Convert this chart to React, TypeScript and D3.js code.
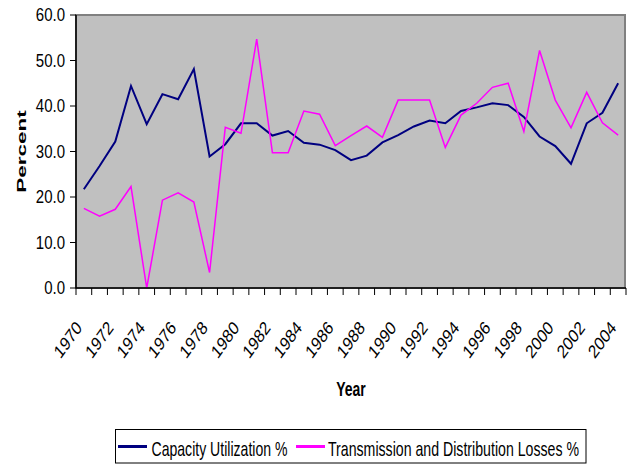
import React from 'react';
import * as d3 from 'd3';

const years = [
  1970, 1971, 1972, 1973, 1974, 1975, 1976, 1977, 1978, 1979,
  1980, 1981, 1982, 1983, 1984, 1985, 1986, 1987, 1988, 1989,
  1990, 1991, 1992, 1993, 1994, 1995, 1996, 1997, 1998, 1999,
  2000, 2001, 2002, 2003, 2004,
];

const capacityUtilization = [
  21.7, 26.8, 32.2, 44.4, 36.0, 42.6, 41.5, 48.1, 28.9, 31.6,
  36.2, 36.2, 33.5, 34.5, 31.9, 31.5, 30.3, 28.1, 29.1, 32.0,
  33.6, 35.5, 36.8, 36.2, 38.9, 39.7, 40.6, 40.2, 37.6, 33.3,
  31.2, 27.3, 36.2, 38.5, 45.0,
];

const tdLosses = [
  17.5, 15.8, 17.3, 22.3, 0.0, 19.3, 20.9, 18.9, 3.4, 35.3,
  34.0, 54.7, 29.7, 29.7, 38.9, 38.2, 31.3, 33.5, 35.6, 33.1,
  41.3, 41.3, 41.3, 30.9, 38.0, 40.6, 44.1, 45.0, 34.4, 52.2,
  41.3, 35.2, 43.0, 36.3, 33.6,
];

const yTicks = [0, 10, 20, 30, 40, 50, 60];
const seriesNames = ['Capacity Utilization %', 'Transmission and Distribution Losses %'];
const seriesColors = ['#000080', '#ff00ff'];
const seriesWidths = [2, 1.5];

const font = '"Liberation Sans", Arial, sans-serif';

export default function App() {
  const width = 629;
  const height = 465;
  const margin = { top: 15, right: 3, bottom: 177, left: 76 };

  const x = d3
    .scaleBand<number>()
    .domain(years)
    .range([margin.left, width - margin.right])
    .padding(0);
  const bw = x.bandwidth();

  const y = d3
    .scaleLinear()
    .domain([0, 60])
    .range([height - margin.bottom, margin.top]);

  const line = d3
    .line<number>()
    .x((_, i) => (x(years[i]) as number) + bw / 2)
    .y((d) => y(d));

  const series = [capacityUtilization, tdLosses];
  const x0 = margin.left;
  const x1 = width - margin.right;
  const yBottom = y(0);
  const yTop = y(60);

  // tick marks sit on the category boundaries
  const boundaries = years.map((yr) => x(yr) as number).concat([x1]);

  // legend layout
  const legend = { left: 115.5, top: 429.5, right: 586, bottom: 463 };
  const legendItems = [
    { lineX: 118, textX: 151.5, textLen: 136 },
    { lineX: 296, textX: 328, textLen: 251 },
  ];

  return (
    <svg
      width={width}
      height={height}
      style={{ position: 'absolute', left: 0, top: 0, background: '#fff' }}
      fontFamily={font}
    >
      <rect x={x0} y={yTop} width={x1 - x0 - 1} height={yBottom - yTop} fill="#c0c0c0" stroke="#808080" strokeWidth={2} />

      {series.map((values, s) => (
        <path
          key={s}
          d={line(values) || ''}
          fill="none"
          stroke={seriesColors[s]}
          strokeWidth={seriesWidths[s]}
        />
      ))}

      {/* y axis */}
      <line x1={x0} x2={x0} y1={yTop} y2={yBottom} stroke="#000" strokeWidth={1.5} />
      {yTicks.map((t) => (
        <g key={t} transform={`translate(0, ${y(t)})`}>
          <line x1={x0 - 6} x2={x0} y1={0} y2={0} stroke="#000" strokeWidth={1} />
          <g transform={`translate(${x0 - 11}, 0) scale(1, 1.2)`}>
            <text textAnchor="end" dy="0.36em" fontSize={15} fill="#000">
              {d3.format('.1f')(t)}
            </text>
          </g>
        </g>
      ))}

      {/* x axis */}
      <line x1={x0} x2={x1} y1={yBottom} y2={yBottom} stroke="#000" strokeWidth={1.5} />
      {boundaries.map((bx, i) => (
        <line key={i} x1={bx} x2={bx} y1={yBottom} y2={yBottom + 7} stroke="#000" strokeWidth={1} />
      ))}
      {years
        .filter((_, i) => i % 2 === 0)
        .map((yr) => (
          <g key={yr} transform={`translate(${(x(yr) as number) + bw / 2 - 5}, ${yBottom + 36}) scale(1, 1.25) rotate(-48)`}>
            <text textAnchor="end" dy="0.36em" fontSize={15} fill="#000">
              {yr}
            </text>
          </g>
        ))}

      {/* axis titles */}
      <g transform={`translate(21.5, ${(yTop + yBottom) / 2}) rotate(-90) scale(1.5, 0.9)`}>
        <text textAnchor="middle" dy="0.36em" fontSize={15} fontWeight="bold" fill="#000">
          Percent
        </text>
      </g>
      <g transform={`translate(${(x0 + x1) / 2}, 396) scale(1, 1.45)`}>
        <text textAnchor="middle" fontSize={14} fontWeight="bold" fill="#000">
          Year
        </text>
      </g>

      {/* legend */}
      <rect
        x={legend.left}
        y={legend.top}
        width={legend.right - legend.left}
        height={legend.bottom - legend.top}
        fill="#fff"
        stroke="#000"
        strokeWidth={1}
      />
      {legendItems.map((it, s) => (
        <g key={s}>
          <line x1={it.lineX} x2={it.lineX + 29} y1={446.5} y2={446.5} stroke={seriesColors[s]} strokeWidth={3} />
          <g transform={`translate(${it.textX}, 455.5) scale(1, 1.4)`}>
            <text fontSize={14} fill="#000" textLength={it.textLen} lengthAdjust="spacingAndGlyphs">
              {seriesNames[s]}
            </text>
          </g>
        </g>
      ))}
    </svg>
  );
}
